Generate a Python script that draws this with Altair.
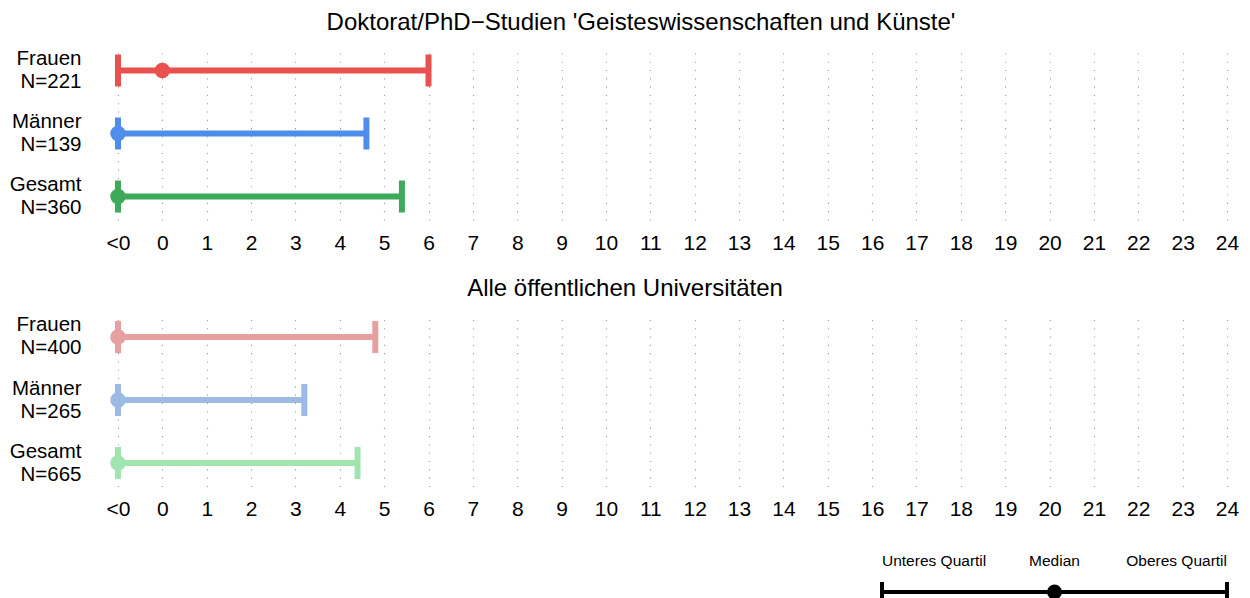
import altair as alt
import pandas as pd

FONT = "Liberation Sans"

groups = ["Frauen", "Männer", "Gesamt"]
panel_titles = [
    "Doktorat/PhD\u2212Studien 'Geisteswissenschaften und Künste'",
    "Alle öffentlichen Universitäten",
]
title_shift = [-31.5, -47.5]
n_top = [221, 139, 360]
q1_top = [-1, -1, -1]
med_top = [0, -1, -1]
q3_top = [6.0, 4.6, 5.4]
n_bot = [400, 265, 665]
q1_bot = [-1, -1, -1]
med_bot = [-1, -1, -1]
q3_bot = [4.8, 3.2, 4.4]
colors_top = ["#E9514F", "#4F8DEB", "#3DAA5A"]
colors_bot = ["#E6A0A0", "#9CBAE4", "#A0E4B0"]
tick_values = list(range(-1, 25))
legend_keys = ["lo", "mid", "hi"]
legend_labels = ["Unteres Quartil", "Median", "Oberes Quartil"]
legend_pos = [0, 1, 2]


def panel(title, dx, n, q1, med, q3, colors):
    labels = [f"{g}\nN={k}" for g, k in zip(groups, n)]
    df = pd.DataFrame({"lab": labels, "q1": q1, "med": med, "q3": q3, "col": colors})
    xscale = alt.Scale(domain=[-1, 24], nice=False, zero=False)
    y = alt.Y(
        "lab:N",
        sort=labels,
        scale=alt.Scale(type="point", padding=0.373),
        axis=alt.Axis(
            title=None,
            labelExpr="split(datum.label, '\\n')",
            labelFontSize=20.5,
            labelLineHeight=23,
            labelPadding=37,
            labelOffset=-12,
            ticks=False,
            tickSize=0,
            domain=False,
            grid=False,
            minExtent=110,
            maxExtent=110,
            labelColor="black",
            labelFont=FONT,
            labelAlign="right",
            labelBaseline="middle",
        ),
    )
    color = alt.Color("col:N", scale=None)
    base = alt.Chart(df)
    rule = base.mark_rule(strokeWidth=6).encode(
        x=alt.X(
            "q1:Q",
            scale=xscale,
            title=None,
            axis=alt.Axis(
                values=tick_values,
                labelExpr="datum.value == -1 ? '<0' : datum.label",
                labelFontSize=21,
                labelFont=FONT,
                labelColor="black",
                labelPadding=12,
                ticks=False,
                tickSize=0,
                domain=False,
                grid=True,
                gridColor="#9a9a9a",
                gridWidth=1.1,
                gridDash=[1.1, 7.2],
                labelOverlap=False,
                labelFlush=False,
                title=None,
            ),
        ),
        x2="q3:Q",
        y=y,
        color=color,
    )
    cap_lo = base.mark_tick(thickness=6, size=32, opacity=1).encode(
        x=alt.X("q1:Q", scale=xscale, title=None), y=y, color=color
    )
    cap_hi = base.mark_tick(thickness=6, size=32, opacity=1).encode(
        x=alt.X("q3:Q", scale=xscale, title=None), y=y, color=color
    )
    pt = base.mark_circle(size=240, opacity=1).encode(
        x=alt.X("med:Q", scale=xscale, title=None), y=y, color=color
    )
    return alt.layer(rule, cap_lo, cap_hi, pt).properties(
        width=1109,
        height=173,
        title=alt.Title(
            title,
            fontSize=24,
            font=FONT,
            fontWeight="normal",
            color="black",
            anchor="middle",
            dx=dx,
            offset=12.5,
        ),
    )


p1 = panel(panel_titles[0], title_shift[0], n_top, q1_top, med_top, q3_top, colors_top)
p2 = panel(panel_titles[1], title_shift[1], n_bot, q1_bot, med_bot, q3_bot, colors_bot)

# legend
ldf = pd.DataFrame(
    {
        "key": legend_keys,
        "label": legend_labels,
        "pos": legend_pos,
        "row": ["Text"] * 3,
        "lrow": ["Linie"] * 3,
    }
)
seg = pd.DataFrame({"start": [legend_pos[0]], "end": [legend_pos[-1]], "lrow": ["Linie"]})
lx = alt.Scale(domain=[-4.429, 2.0], nice=False, zero=False)
ly = alt.Scale(type="point", domain=["Text", "Linie"], range=[22.5, 49], padding=0)
lbase = alt.Chart(ldf)
ltexts = []
for key, align in zip(legend_keys, ["left", "center", "right"]):
    ltexts.append(
        lbase.mark_text(align=align, baseline="alphabetic", fontSize=15.5, font=FONT, color="black")
        .encode(
            x=alt.X("pos:Q", scale=lx, axis=None),
            y=alt.Y("row:N", scale=ly, axis=None),
            text="label:N",
        )
        .transform_filter(alt.datum.key == key)
    )
lrule = alt.Chart(seg).mark_rule(strokeWidth=4, color="black").encode(
    x=alt.X("start:Q", scale=lx, axis=None),
    x2="end:Q",
    y=alt.Y("lrow:N", scale=ly, axis=None),
)
lcaps = (
    lbase.mark_tick(thickness=4, size=20, color="black", opacity=1)
    .encode(x=alt.X("pos:Q", scale=lx, axis=None), y=alt.Y("lrow:N", scale=ly, axis=None))
    .transform_filter(alt.datum.key != "mid")
)
lpt = (
    lbase.mark_circle(size=225, color="black", opacity=1)
    .encode(x=alt.X("pos:Q", scale=lx, axis=None), y=alt.Y("lrow:N", scale=ly, axis=None))
    .transform_filter(alt.datum.key == "mid")
)
legend = alt.layer(lrule, lcaps, lpt, *ltexts).properties(width=1109, height=56)

chart = (
    alt.vconcat(p1, p2, legend, spacing=23.5)
    .properties(padding={"left": 0, "top": 2, "right": 0, "bottom": 0})
    .configure(background="white")
    .configure_view(strokeWidth=0, stroke=None)
)

chart.save("out.html", embed_options={"renderer": "svg", "actions": False})
